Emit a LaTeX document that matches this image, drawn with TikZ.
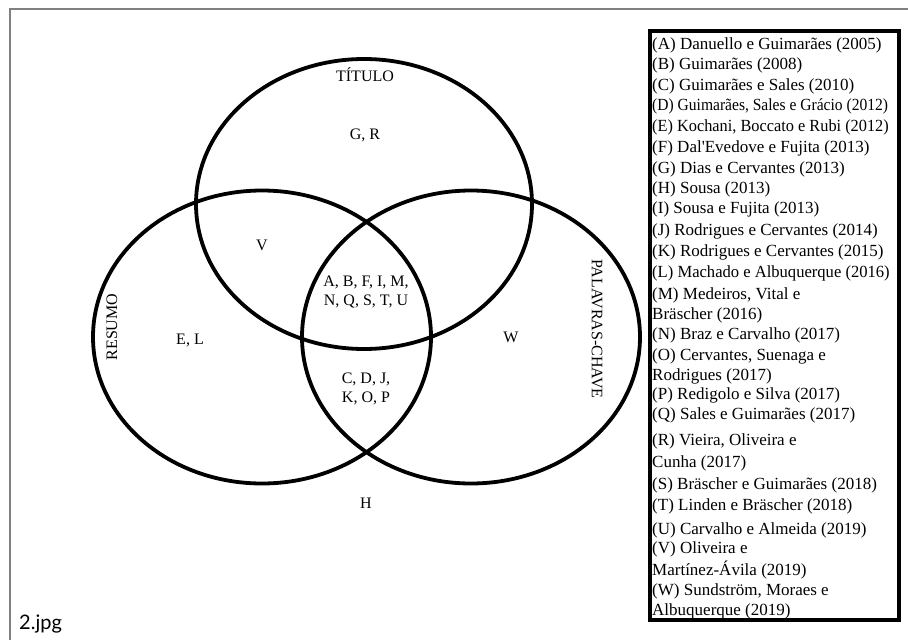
\documentclass[tikz,border=0pt]{standalone}
\usepackage{fontspec}
\setmainfont{Liberation Serif}
\newfontfamily\latofont{Lato}
\begin{document}
\begin{tikzpicture}[x=1pt,y=-1pt,
  venn/.style={draw=black, line width=3.8pt},
  lbl/.style={inner sep=0pt, font=\fontsize{16}{19}\selectfont, align=center},
  leg/.style={inner sep=0pt, anchor=base west, font=\fontsize{17}{21}\selectfont},
  frameline/.style={draw=black!50, line width=2pt},
  legbox/.style={draw=black, line width=4pt}]
\useasboundingbox (0,0) rectangle (908,640);
% outer gray frame
\coordinate (fa) at (9.5,640);
\coordinate (fb) at (9.5,9);
\coordinate (fc) at (908,9);
\draw[frameline] (fa) -- (fb) -- (fc);
% Venn ellipses
\draw[venn] (364,204) ellipse [x radius=168, y radius=145];
\draw[venn] (262,337) ellipse [x radius=169, y radius=146.5];
\draw[venn] (471,337) ellipse [x radius=169, y radius=146.5];
% set labels
\node[lbl] (tit) at (365,75) {TÍTULO};
\node[lbl, rotate=90] (res) at (112,327) {RESUMO};
\node[lbl, rotate=-90] (pal) at (597,329) {PALAVRAS-CHAVE};
% region labels
\node[lbl] (gr) at (365,135) {G, R};
\node[lbl] (v) at (262,245) {V};
\node[lbl] (abc) at (366,292) {A, B, F, I, M,\\N, Q, S, T, U};
\node[lbl] (el) at (190,340) {E, L};
\node[lbl] (w) at (511,337) {W};
\node[lbl] (cdj) at (366,389) {C, D, J,\\K, O, P};
\node[lbl] (h) at (366,503) {H};
% legend box
\draw[legbox] (650,31) rectangle (899,620);
\node[leg] (lA) at (652,49) {(A) Danuello e Guimarães (2005)};
\node[leg] (lB) at (652,69) {(B) Guimarães (2008)};
\node[leg] (lC) at (652,90) {(C) Guimarães e Sales (2010)};
\node[leg] (lD) at (652,110) {\scalebox{0.915}[1]{(D) Guimarães, Sales e Grácio (2012)}};
\node[leg] (lE) at (652,131) {\scalebox{0.96}[1]{(E) Kochani, Boccato e Rubi (2012)}};
\node[leg] (lF) at (652,152) {(F) Dal\textquotesingle Evedove e Fujita (2013)};
\node[leg] (lG) at (652,173) {(G) Dias e Cervantes (2013)};
\node[leg] (lH) at (652,193) {(H) Sousa (2013)};
\node[leg] (lI) at (652,213) {(I) Sousa e Fujita (2013)};
\node[leg] (lJ) at (652,235) {(J) Rodrigues e Cervantes (2014)};
\node[leg] (lK) at (652,256) {(K) Rodrigues e Cervantes (2015)};
\node[leg] (lL) at (652,277) {\scalebox{0.975}[1]{(L) Machado e Albuquerque (2016)}};
\node[leg] (lM) at (652,299) {(M) Medeiros, Vital e};
\node[leg] (lM2) at (652,319) {Bräscher (2016)};
\node[leg] (lN) at (652,339) {(N) Braz e Carvalho (2017)};
\node[leg] (lO) at (652,360) {(O) Cervantes, Suenaga e};
\node[leg] (lO2) at (652,380) {Rodrigues (2017)};
\node[leg] (lP) at (652,399) {(P) Redigolo e Silva (2017)};
\node[leg] (lQ) at (652,419) {(Q) Sales e Guimarães (2017)};
\node[leg] (lR) at (652,445) {(R) Vieira, Oliveira e};
\node[leg] (lR2) at (652,467) {Cunha (2017)};
\node[leg] (lS) at (652,489) {(S) Bräscher e Guimarães (2018)};
\node[leg] (lT) at (652,510) {(T) Linden e Bräscher (2018)};
\node[leg] (lU) at (652,534) {(U) Carvalho e Almeida (2019)};
\node[leg] (lV) at (652,553) {(V) Oliveira e};
\node[leg] (lV2) at (652,575) {Martínez-Ávila (2019)};
\node[leg] (lW) at (652,595) {(W) Sundström, Moraes e};
\node[leg] (lW2) at (652,615) {Albuquerque (2019)};
% caption
\node[inner sep=0pt, anchor=base west, font=\latofont\fontsize{20}{24}\selectfont] (cap) at (19,629) {2.jpg};
\end{tikzpicture}
\end{document}
